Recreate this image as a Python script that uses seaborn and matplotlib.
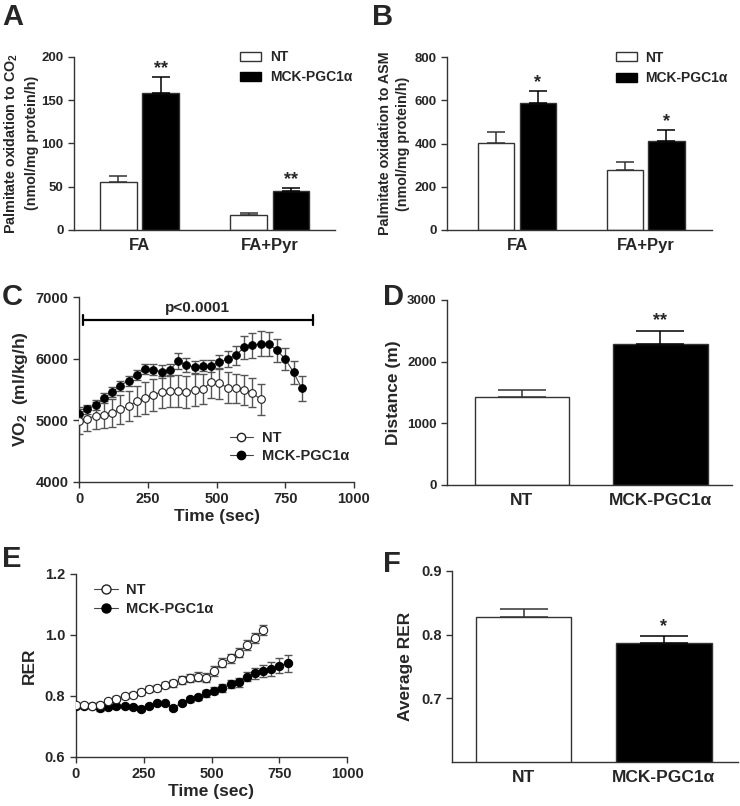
"""Six-panel figure: palmitate oxidation, VO2, distance, RER (NT vs MCK-PGC1a)."""

import matplotlib
matplotlib.use("Agg")
import numpy as np
import pandas as pd
import matplotlib.pyplot as plt
import seaborn as sns
from matplotlib.patches import Patch
from matplotlib.lines import Line2D

sns.set_style("ticks")
plt.rcParams['font.family'] = ['Liberation Sans', 'DejaVu Sans']
plt.rcParams['font.weight'] = 'bold'
plt.rcParams['axes.labelweight'] = 'bold'
plt.rcParams['mathtext.fontset'] = 'custom'
plt.rcParams['mathtext.rm'] = 'Liberation Sans:bold'
plt.rcParams['mathtext.bf'] = 'Liberation Sans:bold'
plt.rcParams['mathtext.default'] = 'bf'

# ---------------- data ----------------
groups = ['NT', 'MCK-PGC1α']
conditions = ['FA', 'FA+Pyr']

# A: palmitate oxidation to CO2
co2_nt = [55.8, 16.9]
co2_nt_sem = [6.9, 2.3]
co2_mck = [157.7, 45.0]
co2_mck_sem = [18.3, 3.0]
co2_stars = ['**', '**']

# B: palmitate oxidation to ASM
asm_nt = [401, 276]
asm_nt_sem = [54, 39]
asm_mck = [590, 414]
asm_mck_sem = [55, 49]
asm_stars = ['*', '*']

# C: VO2 over time
vo2_time_nt = [0, 30, 60, 90, 120, 150, 180, 210, 240, 270, 300, 330,
               360, 390, 420, 450, 480, 510, 540, 570, 600, 630, 660]
vo2_nt = [4989, 5027, 5071, 5093, 5120, 5175, 5230, 5311, 5355, 5410, 5464, 5475,
          5475, 5464, 5492, 5508, 5617, 5601, 5530, 5519, 5492, 5448, 5339]
vo2_nt_sem = [220, 210, 220, 220, 230, 240, 250, 250, 260, 260, 260, 260,
              260, 260, 260, 250, 250, 250, 250, 240, 240, 240, 250]
vo2_time_mck = [0, 30, 60, 90, 120, 150, 180, 210, 240, 270, 300, 330, 360, 390,
                420, 450, 480, 510, 540, 570, 600, 630, 660, 690, 720, 750, 780, 810]
vo2_mck = [5098, 5175, 5246, 5355, 5454, 5563, 5645, 5738, 5836, 5820, 5792, 5820, 5956, 5902,
           5863, 5885, 5885, 5945, 5995, 6055, 6186, 6219, 6246, 6240, 6137, 5995, 5781, 5519]
vo2_mck_sem = [90, 80, 80, 80, 80, 80, 80, 80, 80, 90, 100, 100, 130, 110,
               100, 90, 100, 110, 130, 150, 190, 200, 200, 200, 190, 180, 190, 200]
pbar_start, pbar_end, pbar_y = 15, 850, 6630
pbar_text = 'p<0.0001'

# D: running distance
dist = [1422, 2286]
dist_sem = [118, 211]
dist_stars = ['', '**']

# E: RER over time
rer_time_nt = [0, 30, 60, 90, 120, 150, 180, 210, 240, 270, 300, 330,
               360, 390, 420, 450, 480, 510, 540, 570, 600, 630, 660, 690]
rer_nt = [0.769, 0.769, 0.767, 0.770, 0.782, 0.791, 0.799, 0.804, 0.813, 0.821, 0.827, 0.835,
          0.841, 0.852, 0.857, 0.863, 0.860, 0.881, 0.909, 0.923, 0.942, 0.967, 0.989, 1.016]
rer_nt_sem = [0.006, 0.006, 0.006, 0.008, 0.008, 0.008, 0.008, 0.009, 0.009, 0.010, 0.010, 0.011,
              0.012, 0.012, 0.013, 0.014, 0.016, 0.016, 0.016, 0.015, 0.015, 0.015, 0.016, 0.016]
rer_time_mck = [0, 30, 60, 90, 120, 150, 180, 210, 240, 270, 300, 330, 360, 390,
                420, 450, 480, 510, 540, 570, 600, 630, 660, 690, 720, 750, 780]
rer_mck = [0.767, 0.767, 0.765, 0.761, 0.764, 0.767, 0.765, 0.764, 0.758, 0.767, 0.775, 0.775,
           0.761, 0.777, 0.788, 0.795, 0.808, 0.817, 0.826, 0.839, 0.844, 0.863, 0.874, 0.881,
           0.888, 0.899, 0.907]
rer_mck_sem = [0.006, 0.006, 0.006, 0.010, 0.007, 0.006, 0.006, 0.006, 0.008, 0.006, 0.006, 0.006,
               0.006, 0.007, 0.008, 0.009, 0.011, 0.012, 0.013, 0.014, 0.015, 0.016, 0.018, 0.020,
               0.022, 0.025, 0.028]

# F: average RER
avg_rer = [0.827, 0.787]
avg_rer_sem = [0.013, 0.011]
avg_rer_stars = ['', '*']

# ---------------- layout helpers ----------------
W, H = 740, 806
fig = plt.figure(figsize=(W / 100, H / 100), dpi=100)
AX_COL = '#333333'


def px_axes(x0, y0, x1, y1):
    return fig.add_axes([x0 / W, 1 - y1 / H, (x1 - x0) / W, (y1 - y0) / H])


def style_axes(ax, tick_size, cat_x=False):
    sns.despine(ax=ax)
    for s in ['left', 'bottom']:
        ax.spines[s].set_color(AX_COL)
        ax.spines[s].set_linewidth(1.0)
    ax.tick_params(axis='both', direction='out', length=4, width=1,
                   color=AX_COL, labelsize=tick_size)
    if cat_x:
        ax.tick_params(axis='x', length=0, pad=6)


def bar_errors(ax, sems, stars, capsize, star_size, star_off):
    for i, p in enumerate(ax.patches):
        cx = p.get_x() + p.get_width() / 2
        top = p.get_height()
        col = AX_COL if p.get_facecolor()[0] > 0.5 else 'black'
        ax.errorbar(cx, top, yerr=[[0], [sems[i]]], fmt='none', ecolor=col,
                    elinewidth=1.1, capsize=capsize, capthick=1.1, zorder=1)
        if stars[i]:
            ax.text(cx, top + sems[i] + star_off, stars[i], ha='center', va='bottom',
                    fontsize=star_size, fontweight='bold')


def panel_letter(x, y, s):
    fig.text(x / W, 1 - y / H, s, fontsize=21, fontweight='bold', va='top', ha='left')


pal = ['white', 'black']

# ---------------- A ----------------
axA = px_axes(74, 56.7, 335, 230)
dfA = pd.DataFrame({'cond': conditions * 2,
                    'group': [groups[0]] * 2 + [groups[1]] * 2,
                    'val': co2_nt + co2_mck})
sns.barplot(data=dfA, x='cond', y='val', hue='group', palette=pal, edgecolor=AX_COL,
            linewidth=1, width=0.65, gap=0.13, errorbar=None, legend=False, ax=axA)
bar_errors(axA, co2_nt_sem + co2_mck_sem, ['', ''] + co2_stars, 6.7, 13, 0)
axA.set_xlim(-0.502, 1.5)
axA.set_ylim(0, 200)
axA.set_yticks([0, 50, 100, 150, 200])
axA.set_xlabel('')
axA.set_ylabel('Palmitate oxidation to CO$_2$\n(nmol/mg protein/h)', fontsize=10.3,
               labelpad=2, linespacing=1.4)
style_axes(axA, 9.5, cat_x=True)
axA.tick_params(axis='x', labelsize=12)
legA = [Patch(facecolor='white', edgecolor=AX_COL, label=groups[0]),
        Patch(facecolor='black', edgecolor='black', label=groups[1])]
axA.legend(handles=legA, loc='upper left', bbox_to_anchor=(0.59, 1.11), frameon=False,
           fontsize=10, handlelength=1.5, handleheight=0.6, handletextpad=0.6,
           labelspacing=0.45)
panel_letter(2, 3, 'A')

# ---------------- B ----------------
axB = px_axes(447, 57.3, 712, 230)
dfB = pd.DataFrame({'cond': conditions * 2,
                    'group': [groups[0]] * 2 + [groups[1]] * 2,
                    'val': asm_nt + asm_mck})
sns.barplot(data=dfB, x='cond', y='val', hue='group', palette=pal, edgecolor=AX_COL,
            linewidth=1, width=0.65, gap=0.13, errorbar=None, legend=False, ax=axB)
bar_errors(axB, asm_nt_sem + asm_mck_sem, ['', ''] + asm_stars, 6.7, 13, 0)
axB.set_xlim(-0.545, 1.517)
axB.set_ylim(0, 800)
axB.set_yticks([0, 200, 400, 600, 800])
axB.set_xlabel('')
axB.set_ylabel('Palmitate oxidation to ASM\n(nmol/mg protein/h)', fontsize=10.3,
               labelpad=3, linespacing=1.4)
style_axes(axB, 9.5, cat_x=True)
axB.tick_params(axis='x', labelsize=12)
legB = [Patch(facecolor='white', edgecolor=AX_COL, label=groups[0]),
        Patch(facecolor='black', edgecolor='black', label=groups[1])]
axB.legend(handles=legB, loc='upper left', bbox_to_anchor=(0.59, 1.11), frameon=False,
           fontsize=10, handlelength=1.5, handleheight=0.6, handletextpad=0.6,
           labelspacing=0.45)
panel_letter(372, 3, 'B')


# ---------------- line panels ----------------
def line_panel(ax, t_nt, y_nt, e_nt, t_mck, y_mck, e_mck, ms):
    ax.errorbar(t_nt, y_nt, yerr=e_nt, fmt='none', ecolor='#555555', elinewidth=1,
                capsize=2.6, capthick=1, zorder=2)
    ax.errorbar(t_mck, y_mck, yerr=e_mck, fmt='none', ecolor='#555555', elinewidth=1,
                capsize=2.6, capthick=1, zorder=2)
    sns.lineplot(x=t_mck, y=y_mck, ax=ax, color='#444444', linewidth=0.8, marker='o',
                 markersize=ms, markerfacecolor='black', markeredgecolor='black',
                 errorbar=None, zorder=3)
    sns.lineplot(x=t_nt, y=y_nt, ax=ax, color='#444444', linewidth=0.8, marker='o',
                 markersize=ms, markerfacecolor='white', markeredgecolor='#222222',
                 markeredgewidth=0.8, errorbar=None, zorder=4)
    return [Line2D([], [], color='#444444', lw=0.8, marker='o', ms=ms + 0.5,
                   mfc='white', mec='#222222', label=groups[0]),
            Line2D([], [], color='#444444', lw=0.8, marker='o', ms=ms + 0.5,
                   mfc='black', mec='black', label=groups[1])]


# ---------------- C ----------------
axC = px_axes(79, 297.3, 354, 481.7)
handlesC = line_panel(axC, vo2_time_nt, vo2_nt, vo2_nt_sem,
                      vo2_time_mck, vo2_mck, vo2_mck_sem, 5.5)
axC.plot([pbar_start, pbar_end], [pbar_y, pbar_y], color='black', lw=1.6)
for xe in (pbar_start, pbar_end):
    axC.plot([xe, xe], [pbar_y - 75, pbar_y + 75], color='black', lw=1.6)
axC.text((pbar_start + pbar_end) / 2, pbar_y + 90, pbar_text, ha='center', va='bottom',
         fontsize=11, fontweight='bold')
axC.set_xlim(0, 1000)
axC.set_ylim(4000, 7000)
axC.set_xticks([0, 250, 500, 750, 1000])
axC.set_yticks([4000, 5000, 6000, 7000])
axC.set_xlabel('Time (sec)', fontsize=12.5, labelpad=2)
axC.set_ylabel('VO$_2$  (ml/kg/h)', fontsize=12.5, labelpad=4)
style_axes(axC, 10.5)
axC.legend(handles=handlesC, loc='lower left', bbox_to_anchor=(0.5, 0.03), frameon=False,
           fontsize=10.5, handlelength=1.6, handletextpad=0.6, labelspacing=0.3)
panel_letter(2, 283, 'C')

# ---------------- D ----------------
axD = px_axes(447, 300, 732, 485)
sns.barplot(x=groups, y=dist, hue=groups, palette=pal, edgecolor=AX_COL, linewidth=1,
            width=0.68, errorbar=None, legend=False, ax=axD)
bar_errors(axD, dist_sem, dist_stars, 17, 13, 30)
axD.set_xlim(-0.54, 1.516)
axD.set_ylim(0, 3000)
axD.set_yticks([0, 1000, 2000, 3000])
axD.set_ylabel('Distance (m)', fontsize=12.5, labelpad=4)
style_axes(axD, 9.5, cat_x=True)
axD.tick_params(axis='x', labelsize=12.5)
panel_letter(383, 283, 'D')

# ---------------- E ----------------
axE = px_axes(75.7, 574, 347.3, 756.7)
handlesE = line_panel(axE, rer_time_nt, rer_nt, rer_nt_sem,
                      rer_time_mck, rer_mck, rer_mck_sem, 6)
axE.set_xlim(0, 1000)
axE.set_ylim(0.6, 1.2)
axE.set_xticks([0, 250, 500, 750, 1000])
axE.set_yticks([0.6, 0.8, 1.0, 1.2])
axE.set_yticklabels([f'{v:.1f}' for v in [0.6, 0.8, 1.0, 1.2]])
axE.set_xlabel('Time (sec)', fontsize=12.5, labelpad=2)
axE.set_ylabel('RER', fontsize=12.5, labelpad=6)
style_axes(axE, 10.5)
axE.legend(handles=handlesE, loc='upper left', bbox_to_anchor=(0.02, 1.02), frameon=False,
           fontsize=10.5, handlelength=1.6, handletextpad=0.6, labelspacing=0.3)
panel_letter(2, 545, 'E')

# ---------------- F ----------------
axF = px_axes(452, 571, 738, 761.8)
sns.barplot(x=groups, y=avg_rer, hue=groups, palette=pal, edgecolor=AX_COL, linewidth=1,
            width=0.68, errorbar=None, legend=False, ax=axF)
bar_errors(axF, avg_rer_sem, avg_rer_stars, 17, 13, 0.001)
axF.set_xlim(-0.509, 1.527)
axF.set_ylim(0.6, 0.9)
axF.set_yticks([0.7, 0.8, 0.9])
axF.set_yticklabels([f'{v:.1f}' for v in [0.7, 0.8, 0.9]])
axF.set_ylabel('Average RER', fontsize=12.5, labelpad=6)
style_axes(axF, 10.5, cat_x=True)
axF.tick_params(axis='x', labelsize=12.5)
panel_letter(383, 550, 'F')

fig.savefig('out.png', dpi=100)
